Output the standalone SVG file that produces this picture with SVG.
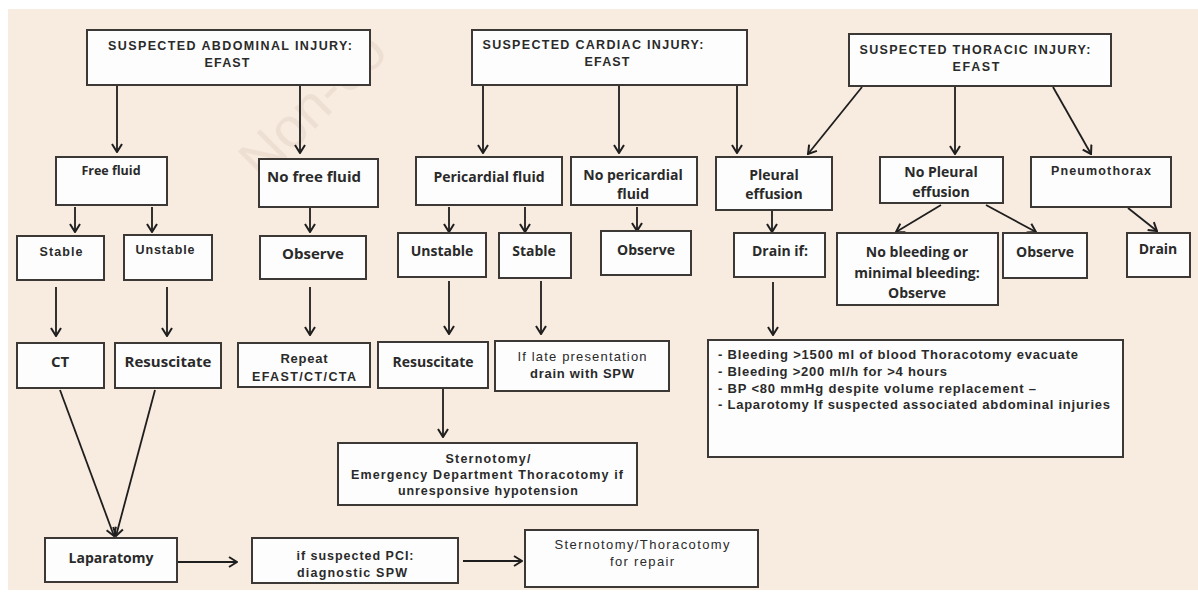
<svg xmlns="http://www.w3.org/2000/svg" width="1198" height="597" viewBox="0 0 1198 597">
<style>
.bx{fill:#fdfdfd;stroke:#3b3835;stroke-width:2}
.ln{fill:none;stroke:#1e1e1e;stroke-width:1.8}
.hd{font-family:"Liberation Sans",Arial,sans-serif;font-weight:bold;font-size:12.5px;fill:#2a2a2a;text-anchor:middle}
.b{font-family:"Open Sans","Liberation Sans",sans-serif;font-weight:bold;font-size:14px;fill:#2a2a2a;text-anchor:middle}
.s{font-family:"Liberation Sans",Arial,sans-serif;font-weight:bold;font-size:12.5px;fill:#2a2a2a;text-anchor:middle}
.l{font-family:"Liberation Sans",Arial,sans-serif;font-weight:bold;font-size:13px;fill:#2a2a2a}
.wm{font-family:"Liberation Sans",Arial,sans-serif;font-size:56px;fill:#e6d6ca;opacity:0.55}
</style>
<defs>
<marker id="ah" viewBox="0 0 10 12" refX="9" refY="6" markerWidth="10" markerHeight="12" markerUnits="userSpaceOnUse" orient="auto">
<path d="M1,1 L9,6 L1,11" fill="none" stroke="#1e1e1e" stroke-width="2"/>
</marker>
</defs>
<rect x="0" y="0" width="1198" height="597" fill="#ffffff"/>
<rect x="8" y="9" width="1190" height="581" fill="#f8ebe0"/>
<text class="wm" transform="translate(262,182) rotate(-45)">Non-co</text>

<g id="connectors">
<path class="ln" d="M117,85 V152" marker-end="url(#ah)"/>
<path class="ln" d="M300,85 V153" marker-end="url(#ah)"/>
<path class="ln" d="M483,85 V153" marker-end="url(#ah)"/>
<path class="ln" d="M619,85 V153" marker-end="url(#ah)"/>
<path class="ln" d="M737,85 V153" marker-end="url(#ah)"/>
<path class="ln" d="M862,87 L808,154" marker-end="url(#ah)"/>
<path class="ln" d="M955,87 V154" marker-end="url(#ah)"/>
<path class="ln" d="M1053,87 L1091,154" marker-end="url(#ah)"/>
<path class="ln" d="M75,207 V232" marker-end="url(#ah)"/>
<path class="ln" d="M152,207 V232" marker-end="url(#ah)"/>
<path class="ln" d="M310,208 V232" marker-end="url(#ah)"/>
<path class="ln" d="M449,207 V232" marker-end="url(#ah)"/>
<path class="ln" d="M525,207 V232" marker-end="url(#ah)"/>
<path class="ln" d="M637,207 V231" marker-end="url(#ah)"/>
<path class="ln" d="M772,211 V232" marker-end="url(#ah)"/>
<path class="ln" d="M941,205 L896,232" marker-end="url(#ah)"/>
<path class="ln" d="M986,205 L1036,232" marker-end="url(#ah)"/>
<path class="ln" d="M1128,208 L1157,231" marker-end="url(#ah)"/>
<path class="ln" d="M56,287 V336" marker-end="url(#ah)"/>
<path class="ln" d="M167,287 V336" marker-end="url(#ah)"/>
<path class="ln" d="M310,287 V335" marker-end="url(#ah)"/>
<path class="ln" d="M449,281 V334" marker-end="url(#ah)"/>
<path class="ln" d="M541,281 V334" marker-end="url(#ah)"/>
<path class="ln" d="M773,282 V335" marker-end="url(#ah)"/>
<path class="ln" d="M443,389 V437" marker-end="url(#ah)"/>
<path class="ln" d="M60,390 L114,536" marker-end="url(#ah)"/>
<path class="ln" d="M155,390 L116,536" marker-end="url(#ah)"/>
<path class="ln" d="M178,562 H237" marker-end="url(#ah)" stroke-width="2.2"/>
<path class="ln" d="M463,561 H522" marker-end="url(#ah)" stroke-width="2.2"/>
</g>

<g id="abdominal-header"><rect class="bx" x="87" y="30" width="283" height="55"/>
<text class="hd" x="230" y="50" textLength="244">SUSPECTED ABDOMINAL INJURY:</text><text class="hd" x="227" y="67" textLength="45">EFAST</text></g>
<g id="cardiac-header"><rect class="bx" x="472" y="30" width="275" height="55"/>
<text class="hd" x="593" y="49" textLength="221">SUSPECTED CARDIAC INJURY:</text><text class="hd" x="607" y="66" textLength="45">EFAST</text></g>
<g id="thoracic-header"><rect class="bx" x="849" y="34" width="262" height="52"/>
<text class="hd" x="975" y="54" textLength="231">SUSPECTED THORACIC INJURY:</text><text class="hd" x="976" y="71" textLength="47">EFAST</text></g>

<g id="free-fluid"><rect class="bx" x="56" y="157" width="111" height="48"/>
<text class="b" x="111" y="175" style="font-size:12.5px">Free fluid</text></g>
<g id="no-free-fluid"><rect class="bx" x="259" y="159" width="119" height="48"/>
<text class="b" x="314" y="182" style="font-size:15px">No free fluid</text></g>
<g id="stable-a"><rect class="bx" x="17" y="236" width="87" height="44"/>
<text class="s" x="61" y="256" textLength="43">Stable</text></g>
<g id="unstable-a"><rect class="bx" x="124" y="235" width="88" height="45"/>
<text class="s" x="165" y="254" textLength="59">Unstable</text></g>
<g id="observe-a"><rect class="bx" x="260" y="236" width="106" height="43"/>
<text class="b" x="313" y="259" style="font-size:15px">Observe</text></g>
<g id="ct"><rect class="bx" x="17" y="343" width="87" height="45"/>
<text class="b" x="60" y="367" style="font-size:15px">CT</text></g>
<g id="resuscitate-a"><rect class="bx" x="115" y="343" width="106" height="45"/>
<text class="b" x="168" y="367" style="font-size:15px">Resuscitate</text></g>
<g id="repeat"><rect class="bx" x="238" y="343" width="132" height="44"/>
<text class="s" x="304" y="363" style="font-size:13px" textLength="47">Repeat</text><text class="s" x="304" y="381" textLength="104">EFAST/CT/CTA</text></g>

<g id="pericardial-fluid"><rect class="bx" x="416" y="157" width="146" height="48"/>
<text class="b" x="489" y="182">Pericardial fluid</text></g>
<g id="no-pericardial-fluid"><rect class="bx" x="571" y="157" width="126" height="48"/>
<text class="b" x="633" y="180">No pericardial</text><text class="b" x="633" y="199">fluid</text></g>
<g id="pleural-effusion"><rect class="bx" x="716" y="157" width="116" height="53"/>
<text class="b" x="774" y="180">Pleural</text><text class="b" x="774" y="199">effusion</text></g>
<g id="unstable-c"><rect class="bx" x="398" y="233" width="88" height="44"/>
<text class="b" x="442" y="256">Unstable</text></g>
<g id="stable-c"><rect class="bx" x="499" y="233" width="72" height="45"/>
<text class="b" x="534" y="256">Stable</text></g>
<g id="observe-c"><rect class="bx" x="601" y="231" width="90" height="44"/>
<text class="b" x="646" y="255">Observe</text></g>
<g id="drain-if"><rect class="bx" x="734" y="233" width="91" height="44"/>
<text class="b" x="780" y="256">Drain if:</text></g>
<g id="resuscitate-c"><rect class="bx" x="378" y="342" width="110" height="46"/>
<text class="b" x="433" y="367">Resuscitate</text></g>
<g id="late-presentation"><rect class="bx" x="495" y="341" width="174" height="50"/>
<text class="s" x="582" y="361" style="font-weight:normal;font-size:13px" textLength="129">If late presentation</text><text class="s" x="582" y="378" style="font-size:13px" textLength="104">drain with SPW</text></g>
<g id="sternotomy-ed"><rect class="bx" x="338" y="443" width="299" height="62"/>
<text class="s" x="488" y="463" textLength="85">Sternotomy/</text><text class="s" x="487" y="479" textLength="272">Emergency Department Thoracotomy if</text><text class="s" x="488" y="495" textLength="180">unresponsive hypotension</text></g>
<g id="drain-criteria"><rect class="bx" x="708" y="340" width="415" height="117"/>
<text class="l" x="718" y="359" textLength="360">- Bleeding &gt;1500 ml of blood Thoracotomy evacuate</text>
<text class="l" x="718" y="376" textLength="229">- Bleeding &gt;200 ml/h for &gt;4 hours</text>
<text class="l" x="718" y="393" textLength="318">- BP &lt;80 mmHg despite volume replacement –</text>
<text class="l" x="718" y="409" textLength="392">- Laparotomy If suspected associated abdominal injuries</text></g>

<g id="no-pleural-effusion"><rect class="bx" x="880" y="157" width="123" height="46"/>
<text class="b" x="941" y="177">No Pleural</text><text class="b" x="941" y="197">effusion</text></g>
<g id="pneumothorax"><rect class="bx" x="1031" y="157" width="140" height="50"/>
<text class="s" x="1101" y="175" textLength="100">Pneumothorax</text></g>
<g id="no-bleeding"><rect class="bx" x="837" y="233" width="161" height="72"/>
<text class="b" x="917" y="257">No bleeding or</text><text class="b" x="917" y="278">minimal bleeding:</text><text class="b" x="917" y="298">Observe</text></g>
<g id="observe-t"><rect class="bx" x="1003" y="233" width="84" height="45"/>
<text class="b" x="1045" y="257">Observe</text></g>
<g id="drain"><rect class="bx" x="1127" y="233" width="63" height="44"/>
<text class="b" x="1158" y="254">Drain</text></g>

<g id="laparatomy"><rect class="bx" x="45" y="538" width="132" height="44"/>
<text class="b" x="111" y="563">Laparatomy</text></g>
<g id="pci"><rect class="bx" x="252" y="538" width="206" height="45"/>
<text class="s" x="355" y="560" textLength="117">if suspected PCI:</text><text class="s" x="352" y="577" textLength="110">diagnostic SPW</text></g>
<g id="sternotomy-repair"><rect class="bx" x="525" y="530" width="233" height="57"/>
<text class="s" x="642" y="549" style="font-weight:normal;font-size:13px" textLength="175">Sternotomy/Thoracotomy</text><text class="s" x="642" y="566" style="font-weight:normal;font-size:13px" textLength="64">for repair</text></g>
</svg>
